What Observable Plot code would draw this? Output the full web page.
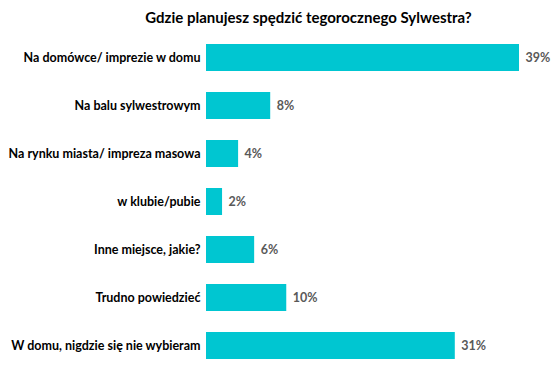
<!DOCTYPE html>
<html>
<head>
<meta charset="utf-8">
<script src="https://cdn.jsdelivr.net/npm/d3@7"></script>
<script src="https://cdn.jsdelivr.net/npm/@observablehq/plot@0.6"></script>
<style>
  body { margin: 0; background: #fff; }
  #title { width: 557px; height: 32px; line-height: 34px; text-align: center; font-family: Lato, sans-serif; font-weight: bold; font-size: 15px; color: #000; padding-left: 60px; box-sizing: border-box; }
</style>
</head>
<body>
<div id="title">Gdzie planujesz spędzić tegorocznego Sylwestra?</div>
<div id="chart"></div>
<script>
const categories = [
  "Na domówce/ imprezie w domu",
  "Na balu sylwestrowym",
  "Na rynku miasta/ impreza masowa",
  "w klubie/pubie",
  "Inne miejsce, jakie?",
  "Trudno powiedzieć",
  "W domu, nigdzie się nie wybieram"
];
const values = [39, 8, 4, 2, 6, 10, 31];
const valueLabels = ["39%", "8%", "4%", "2%", "6%", "10%", "31%"];

const data = categories.map((c, i) => ({category: c, value: values[i], label: valueLabels[i]}));

const chart = Plot.plot({
  width: 557,
  height: 343,
  marginLeft: 206,
  marginRight: 38,
  marginTop: 0,
  marginBottom: 4,
  style: {fontFamily: "Lato, sans-serif", background: "#fff"},
  x: {domain: [0, 39], axis: null},
  y: {domain: categories, paddingInner: 0.435, paddingOuter: 0.2, label: null},
  marks: [
    Plot.barX(data, {y: "category", x: "value", fill: "#00c6d1"}),
    Plot.text(data, {y: "category", x: "value", text: "label", dx: 6, textAnchor: "start", fill: "#595959", fontSize: 12.5, fontWeight: "bold"}),
    Plot.axisY({tickSize: 0, tickPadding: 6, fontSize: 12.5, fontWeight: "bold", fill: "#000", label: null})
  ]
});
document.getElementById("chart").appendChild(chart);
</script>
</body>
</html>
